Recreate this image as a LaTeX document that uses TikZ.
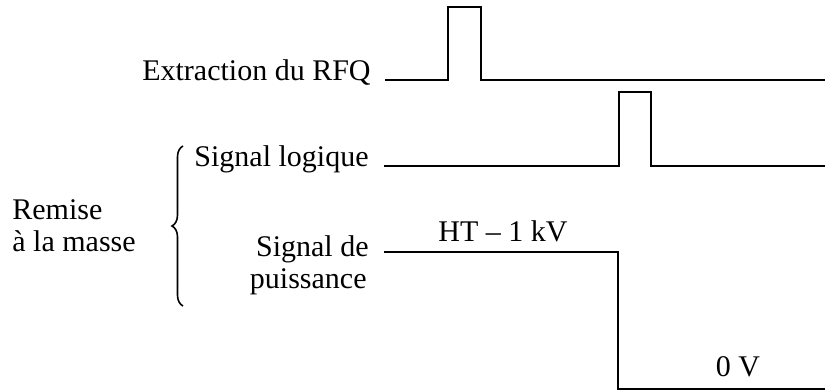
\documentclass[tikz,border=0pt]{standalone}
\usepackage{fontspec}
\setmainfont{Liberation Serif}
\usetikzlibrary{decorations.pathreplacing}
\begin{document}
\begin{tikzpicture}[x=0.5pt,y=-0.5pt,
  lbl/.style={inner sep=0pt,font=\fontsize{15}{16}\selectfont},
  sig/.style={line width=1.2pt,line join=miter}]
\useasboundingbox (0,0) rectangle (825,391);
% labels
\node[lbl,anchor=base east] (rfq) at (371,80) {Extraction du RFQ};
\node[lbl,anchor=base east] (log) at (369,166) {Signal logique};
\node[lbl,anchor=base east] (pw1) at (369,256) {Signal de};
\node[lbl,anchor=base east] (pw2) at (367,288) {puissance};
\node[lbl,anchor=base west] (rm1) at (12,219) {Remise};
\node[lbl,anchor=base west] (rm2) at (12,251) {à la masse};
\node[lbl,anchor=base] (ht) at (503,241) {HT -- 1 kV};
\node[lbl,anchor=base] (zv) at (738,376) {0 V};
% signals
\draw[sig] (385,80) -- (448,80) -- (448,7) -- (481,7) -- (481,80) -- (825,80);
\draw[sig] (384,166) -- (619,166) -- (619,92) -- (651,92) -- (651,166) -- (825,166);
\draw[sig] (384,252) -- (618,252) -- (618,389) -- (825,389);
% brace
\draw[line width=0.8pt,decorate,decoration={brace,amplitude=5.5pt}] (183,306) -- (183,146);
\end{tikzpicture}
\end{document}
